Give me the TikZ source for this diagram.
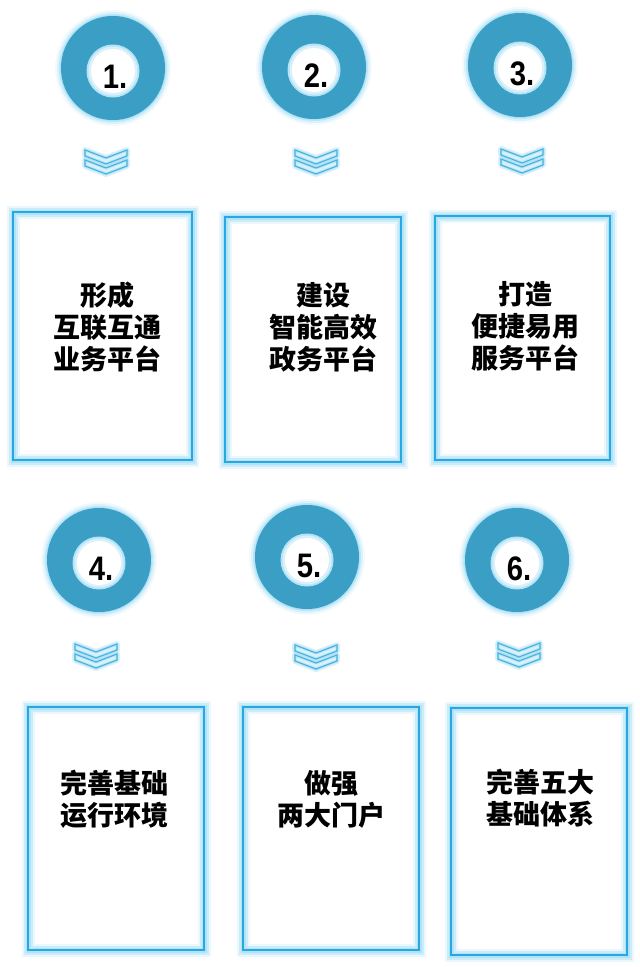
\documentclass[tikz,border=0pt]{standalone}
\usepackage{fontspec}
\newfontfamily\cjk{Noto Sans CJK SC}
\newfontfamily\numfont{Liberation Sans}
\definecolor{ringblue}{RGB}{59,158,196}
\definecolor{glowc}{RGB}{150,216,244}
\definecolor{edgec}{RGB}{38,168,224}
\definecolor{chevc}{RGB}{70,178,220}
\tikzset{
  ring/.style={circle, fill=ringblue, minimum size=104pt, inner sep=0pt},
  num/.style={anchor=base, font=\numfont\bfseries\fontsize{34}{34}\selectfont, text=black, inner sep=0pt},
  panel/.style={draw=edgec, line width=1.6pt, inner sep=0pt,
    preaction={draw=glowc, line width=13pt, opacity=0.2},
    preaction={draw=glowc, line width=9pt, opacity=0.35},
    preaction={draw=glowc, line width=5pt, opacity=0.5}},
  label/.style={align=center, font=\cjk\bfseries\fontsize{27}{32}\selectfont, text=black, inner sep=0pt},
  chevrons/.pic={
    \foreach \dy in {0,10}{
      \draw[glowc, line width=6pt, opacity=0.35, line join=round]
        (-21,\dy-13) -- (0,\dy-5) -- (21,\dy-13) -- (21,\dy-7) -- (0,\dy+1) -- (-21,\dy-7) -- cycle;
      \draw[glowc, line width=3pt, opacity=0.5, line join=round]
        (-21,\dy-13) -- (0,\dy-5) -- (21,\dy-13) -- (21,\dy-7) -- (0,\dy+1) -- (-21,\dy-7) -- cycle;
      \draw[chevc, line width=1.1pt, line join=miter]
        (-21,\dy-13) -- (0,\dy-5) -- (21,\dy-13) -- (21,\dy-7) -- (0,\dy+1) -- (-21,\dy-7) -- cycle;
    }
  }
}
\begin{document}
\begin{tikzpicture}[x=1pt,y=-1pt]
\useasboundingbox (0,0) rectangle (640,967);
% circles
\foreach \i/\x/\y in {1/113/68, 2/314/67, 3/520/65, 4/99/560, 5/307/557, 6/517/560}{
  \foreach \r/\o in {58/0.12, 56/0.25, 54/0.45, 52.5/0.8}{
    \fill[glowc, opacity=\o] (\x,\y) circle (\r pt);
  }
  \node[ring] (c\i) at (\x,\y) {};
  \fill[glowc!70!white] (\x,\y+3) circle (26.5pt);
  \fill[glowc!35!white] (\x,\y+3) circle (24.5pt);
  \fill[white] (\x,\y+3) circle (22pt);
  \node[num] (n\i) at (\x+2,\y+20) {\scalebox{0.86}[1]{\i.}};
}
% chevrons
\foreach \i/\x/\y in {1/106/163, 2/316/163, 3/522/162, 4/96/657, 5/316/658, 6/519/656}{
  \pic (v\i) at (\x,\y) {chevrons};
}
% panels
\node[panel, minimum width=179pt, minimum height=248pt] (b1) at (102.5,336) {};
\node[panel, minimum width=176pt, minimum height=245pt] (b2) at (313,339.5) {};
\node[panel, minimum width=175pt, minimum height=244pt] (b3) at (522.5,338) {};
\node[panel, minimum width=176pt, minimum height=243pt] (b4) at (116,828.5) {};
\node[panel, minimum width=176pt, minimum height=243pt] (b5) at (331,828.5) {};
\node[panel, minimum width=176pt, minimum height=247pt] (b6) at (539,831.5) {};
% texts
\node[label] (t1) at (107,327) {形成\\互联互通\\业务平台};
\node[label] (t2) at (323,327) {建设\\智能高效\\政务平台};
\node[label] (t3) at (525,326) {打造\\便捷易用\\服务平台};
\node[label] (t4) at (114,799) {完善基础\\运行环境};
\node[label] (t5) at (331,799) {做强\\两大门户};
\node[label] (t6) at (540,798) {完善五大\\基础体系};
\end{tikzpicture}
\end{document}
